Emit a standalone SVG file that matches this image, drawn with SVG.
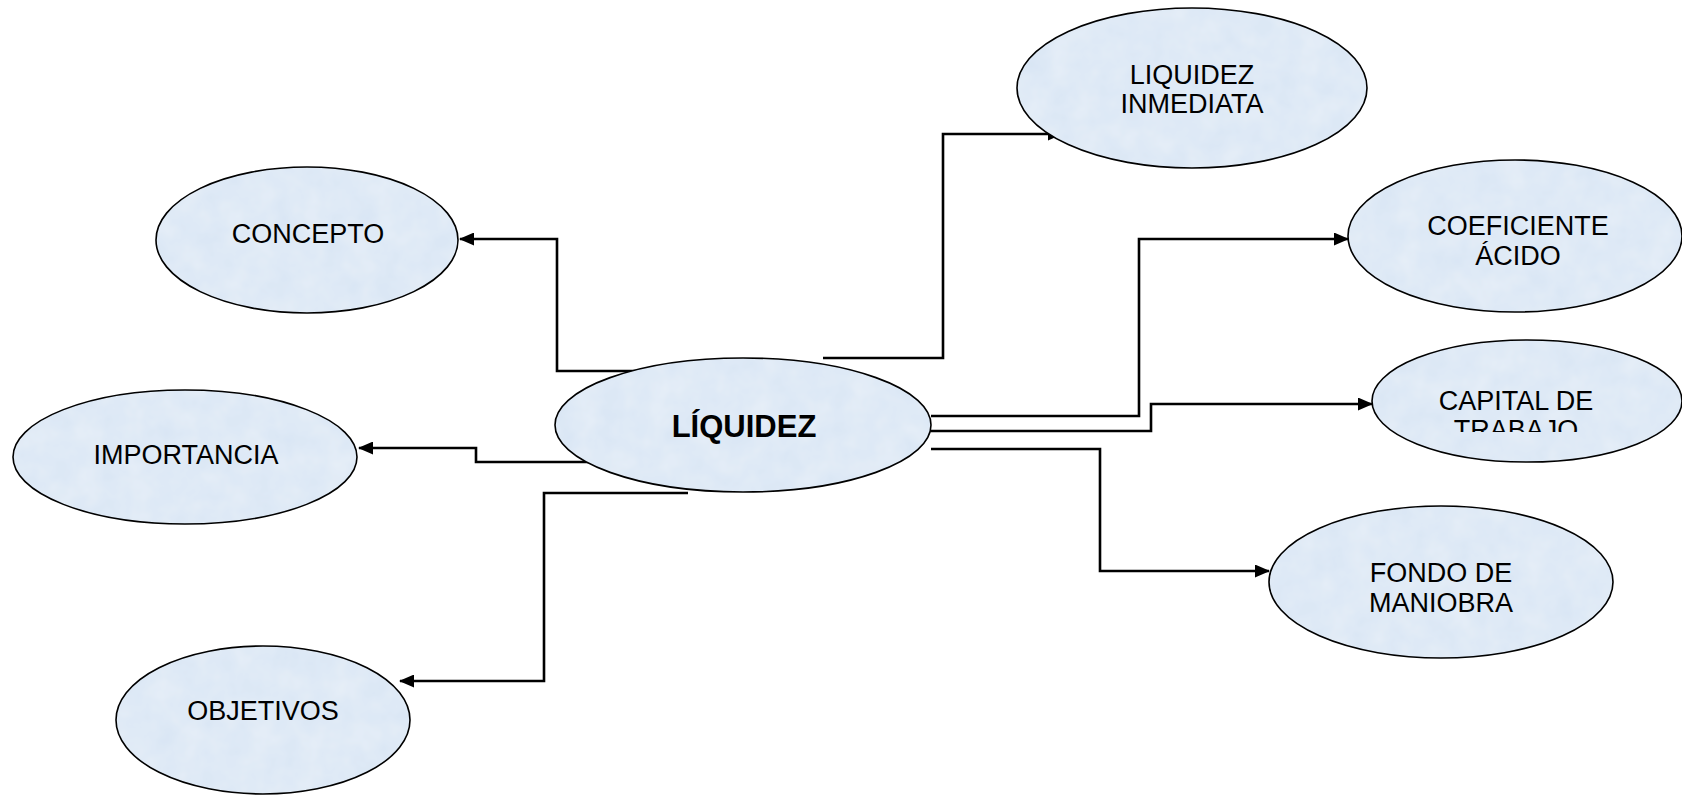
<svg xmlns="http://www.w3.org/2000/svg" width="1682" height="795" viewBox="0 0 1682 795">
<style>
.fillc{fill:#d8e5f4;stroke:none}
.edge{fill:none;stroke:#000;stroke-width:1.6}
.t{font-family:"Liberation Sans",Arial,sans-serif;font-size:27px;fill:#000;text-anchor:middle}
.b{font-weight:bold;font-size:31px}
.c{fill:none;stroke:#000;stroke-width:2.6}
</style>
<defs>
<marker id="ah" viewBox="0 0 15 13" refX="14" refY="6.5" markerWidth="15" markerHeight="13" markerUnits="userSpaceOnUse" orient="auto">
<path d="M0,0 L15,6.5 L0,13 Z" fill="#000"/>
</marker>
<filter id="tex" x="-2%" y="-2%" width="104%" height="104%">
<feTurbulence type="fractalNoise" baseFrequency="0.04" numOctaves="3" seed="4" result="n"/>
<feColorMatrix in="n" type="matrix" values="0 0 0 0 1  0 0 0 0 1  0 0 0 0 1  0 0 0 0.35 0" result="w"/>
<feComposite in="w" in2="SourceGraphic" operator="in" result="wc"/>
<feMerge><feMergeNode in="SourceGraphic"/><feMergeNode in="wc"/></feMerge>
</filter>
<clipPath id="capclip"><rect x="1300" y="330" width="382" height="102"/></clipPath>
</defs>
<rect width="1682" height="795" fill="#fff"/>
<g id="connectors">
<polyline class="c" points="655,371 557,371 557,239 460,239" marker-end="url(#ah)"/>
<polyline class="c" points="595,462 476,462 476,448 359,448" marker-end="url(#ah)"/>
<polyline class="c" points="688,493 544,493 544,681 400,681" marker-end="url(#ah)"/>
<polyline class="c" points="823,358 943,358 943,134 1062,134" marker-end="url(#ah)"/>
<polyline class="c" points="931,416 1139,416 1139,239 1348,239" marker-end="url(#ah)"/>
<polyline class="c" points="931,431 1151,431 1151,404 1372,404" marker-end="url(#ah)"/>
<polyline class="c" points="931,449 1100,449 1100,571 1269,571" marker-end="url(#ah)"/>
</g>
<g id="n-liquidez-inmediata">
<ellipse class="fillc" filter="url(#tex)" cx="1192" cy="88" rx="175" ry="80"/>
<ellipse class="edge" cx="1192" cy="88" rx="175" ry="80"/>
<text class="t" x="1192" y="84">LIQUIDEZ</text>
<text class="t" x="1192" y="113">INMEDIATA</text>
</g>
<g id="n-concepto">
<ellipse class="fillc" filter="url(#tex)" cx="307" cy="240" rx="151" ry="73"/>
<ellipse class="edge" cx="307" cy="240" rx="151" ry="73"/>
<text class="t" x="308" y="243">CONCEPTO</text>
</g>
<g id="n-coeficiente">
<ellipse class="fillc" filter="url(#tex)" cx="1515" cy="236" rx="167" ry="76"/>
<ellipse class="edge" cx="1515" cy="236" rx="167" ry="76"/>
<text class="t" x="1518" y="235">COEFICIENTE</text>
<text class="t" x="1518" y="265">ÁCIDO</text>
</g>
<g id="n-capital">
<ellipse class="fillc" filter="url(#tex)" cx="1527" cy="401" rx="155" ry="61"/>
<ellipse class="edge" cx="1527" cy="401" rx="155" ry="61"/>
<g clip-path="url(#capclip)">
<text class="t" x="1516" y="410">CAPITAL DE</text>
<text class="t" x="1516" y="439">TRABAJO</text>
</g>
</g>
<g id="n-liquidez">
<ellipse class="fillc" filter="url(#tex)" cx="743" cy="425" rx="188" ry="67"/>
<ellipse class="edge" cx="743" cy="425" rx="188" ry="67"/>
<text class="t b" x="744" y="437">LÍQUIDEZ</text>
</g>
<g id="n-importancia">
<ellipse class="fillc" filter="url(#tex)" cx="185" cy="457" rx="172" ry="67"/>
<ellipse class="edge" cx="185" cy="457" rx="172" ry="67"/>
<text class="t" x="186" y="464">IMPORTANCIA</text>
</g>
<g id="n-fondo">
<ellipse class="fillc" filter="url(#tex)" cx="1441" cy="582" rx="172" ry="76"/>
<ellipse class="edge" cx="1441" cy="582" rx="172" ry="76"/>
<text class="t" x="1441" y="582">FONDO DE</text>
<text class="t" x="1441" y="612">MANIOBRA</text>
</g>
<g id="n-objetivos">
<ellipse class="fillc" filter="url(#tex)" cx="263" cy="720" rx="147" ry="74"/>
<ellipse class="edge" cx="263" cy="720" rx="147" ry="74"/>
<text class="t" x="263" y="720">OBJETIVOS</text>
</g>
</svg>
